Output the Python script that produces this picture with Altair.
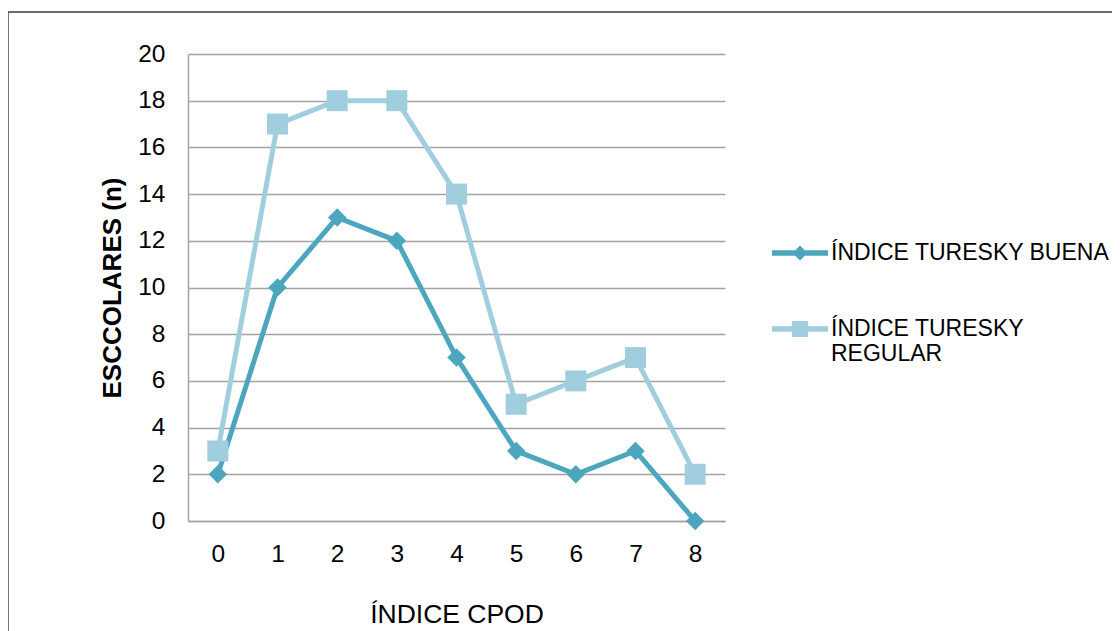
import altair as alt
import pandas as pd

# ---- data ----
cpod = [0, 1, 2, 3, 4, 5, 6, 7, 8]
buena = [2, 10, 13, 12, 7, 3, 2, 3, 0]
regular = [3, 17, 18, 18, 14, 5, 6, 7, 2]
series_names = ["ÍNDICE TURESKY BUENA", "ÍNDICE TURESKY REGULAR"]
series_colors = ["#4BA6BE", "#A0CEDF"]
series_shapes = ["diamond", "square"]
series_sizes = [340, 441]
y_ticks = [0, 2, 4, 6, 8, 10, 12, 14, 16, 18, 20]

rows = []
for name, vals in zip(series_names, [buena, regular]):
    for c, v in zip(cpod, vals):
        rows.append({"cpod": c, "n": v, "serie": name})
df = pd.DataFrame(rows)

W, H = 537, 467
FONT = "Liberation Sans"
GRID = "#A3A3A3"

x_enc = alt.X(
    "cpod:O",
    scale=alt.Scale(type="point", padding=0.5),
    axis=alt.Axis(
        title="ÍNDICE CPOD", labelAngle=0, ticks=False, tickSize=0,
        labelPadding=33, labelBaseline="middle", labelFontSize=24.5,
        labelFont=FONT, labelColor="#000000",
        titleFont=FONT, titleFontSize=26.5, titleFontWeight="normal",
        titleColor="#000000", titleBaseline="alphabetic", titleY=101,
        domainColor=GRID, domainWidth=1.5, grid=False,
    ),
)
y_enc = alt.Y(
    "n:Q",
    scale=alt.Scale(domain=[0, 20], nice=False, zero=True),
    axis=alt.Axis(
        title="ESCCOLARES (n)", values=y_ticks, ticks=False, tickSize=0,
        labelPadding=23, labelFontSize=24.5, labelFont=FONT,
        labelColor="#000000", labelBaseline="middle",
        titleFont=FONT, titleFontSize=26, titleFontWeight="bold",
        titleColor="#000000", titleAngle=270, titleBaseline="alphabetic",
        titleAlign="center", titleX=-68, titleY=H / 2,
        grid=True, gridColor=GRID, gridWidth=1.5,
        domainColor=GRID, domainWidth=1.5,
    ),
)

base = alt.Chart(df)
layers = []

# outer frame
frame_data = alt.InlineData(values=[{"k": 0}])
top_rule = alt.Chart(frame_data).mark_rule(color="#3a3a3a", strokeWidth=1.4).encode(
    x=alt.value(-180), x2=alt.value(W + 400), y=alt.value(-42)
)
left_rule = alt.Chart(frame_data).mark_rule(color="#3a3a3a", strokeWidth=1.4).encode(
    x=alt.value(-180), y=alt.value(-42), y2=alt.value(H + 200)
)
layers += [top_rule, left_rule]

for name, col, shp, size in zip(series_names, series_colors, series_shapes, series_sizes):
    sub = base.transform_filter(alt.datum.serie == name)
    layers.append(sub.mark_line(color=col, strokeWidth=5).encode(x=x_enc, y=y_enc))
    layers.append(
        sub.mark_point(filled=True, shape=shp, size=size, color=col, opacity=1).encode(
            x=x_enc, y=y_enc
        )
    )

# legend (line + marker symbols)
path_buena = "M-1,-0.1L1,-0.1L1,0.1L-1,0.1Z M0,-0.27L0.27,0L0,0.27L-0.27,0Z"
path_regular = "M-1,-0.1L1,-0.1L1,0.1L-1,0.1Z M-0.29,-0.29L0.29,-0.29L0.29,0.29L-0.29,0.29Z"

leg = alt.Legend(
    orient="none", legendX=584, legendY=171, title=None,
    labelFont=FONT, labelFontSize=23, labelColor="#000000", labelOffset=3,
    labelLimit=0, padding=0, rowPadding=36, symbolSize=3136,
    symbolStrokeWidth=0, symbolOpacity=1, labelBaseline="middle",
    labelExpr="datum.label == 'ÍNDICE TURESKY REGULAR' ? ['ÍNDICE TURESKY', 'REGULAR'] : datum.label",
)
legend_layer = base.mark_point(filled=True, opacity=0, size=10).encode(
    x=x_enc, y=y_enc,
    color=alt.Color("serie:N", scale=alt.Scale(domain=series_names, range=series_colors), legend=leg),
    shape=alt.Shape("serie:N", scale=alt.Scale(domain=series_names, range=[path_buena, path_regular]), legend=leg),
)
layers.append(legend_layer)

chart = alt.layer(*layers).properties(
    width=W, height=H,
    autosize=alt.AutoSizeParams(type="none"),
    padding={"left": 180, "top": 46, "right": 387, "bottom": 110},
    background="#FFFFFF",
).configure_view(stroke=None)

chart.save("out.html", embed_options={"renderer": "svg", "actions": False})
